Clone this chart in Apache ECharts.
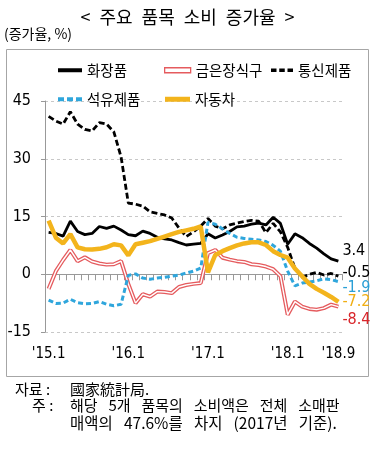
<!DOCTYPE html>
<html>
<head>
<meta charset="utf-8">
<script src="https://cdn.jsdelivr.net/npm/echarts@6/dist/echarts.min.js"></script>
<style>
html,body{margin:0;padding:0;background:#fff;}
#c{width:375px;height:450px;}
</style>
</head>
<body>
<div id="c"></div>
<script>
// ---- data ----
var categories = [
  "'15.1","'15.3","'15.4","'15.5","'15.6","'15.7","'15.8","'15.9","'15.10","'15.11","'15.12",
  "'16.1","'16.3","'16.4","'16.5","'16.6","'16.7","'16.8","'16.9","'16.10","'16.11","'16.12",
  "'17.1","'17.3","'17.4","'17.5","'17.6","'17.7","'17.8","'17.9","'17.10","'17.11","'17.12",
  "'18.1","'18.3","'18.4","'18.5","'18.6","'18.7","'18.8","'18.9"
];
var tickLabels = ["'15.1","'16.1","'17.1","'18.1","'18.9"];
var seriesNames = ["화장품","금은장식구","통신제품","석유제품","자동차"];
var cosmetics = [10.9,10.6,9.9,13.8,11.1,10.3,10.6,12.4,11.9,12.5,11.5,
  10.3,10.0,11.2,10.6,9.6,9.2,8.9,8.2,7.6,7.8,8.0,
  10.5,9.4,10.2,11.1,12.3,12.5,13.0,13.3,12.8,14.8,13.2,
  7.8,10.5,9.5,8.0,6.8,5.3,4.0,3.4];
var jewelry = [-3.8,0.8,3.7,6.3,3.4,4.4,3.3,2.8,2.5,2.6,3.4,
  -2.5,-7.5,-5.2,-5.8,-4.5,-4.6,-4.9,-3.3,-2.8,-2.5,-2.3,
  5.5,6.3,4.3,3.8,3.4,3.2,2.6,2.4,2.0,1.3,-0.5,
  -10.5,-7.1,-8.4,-9.0,-9.2,-8.8,-7.9,-8.4];
var telecom = [41.0,39.8,39.0,42.2,39.0,37.6,37.2,39.4,39.0,37.0,30.5,
  18.5,18.2,17.7,16.2,15.8,15.4,14.6,12.0,9.8,11.0,12.5,
  14.5,12.5,11.8,12.8,13.3,13.7,14.0,13.8,10.8,13.2,11.0,
  7.0,1.5,-0.8,0.0,0.5,-0.2,0.2,-0.5];
var oil = [-6.7,-7.6,-7.5,-6.5,-7.4,-7.7,-7.6,-7.1,-7.8,-8.2,-7.8,
  -0.3,0.1,-1.0,-1.3,-1.0,-0.8,-0.5,-0.2,0.3,0.8,1.6,
  13.5,13.0,11.8,10.6,9.6,9.3,9.1,8.9,8.5,7.5,6.0,
  0.8,-3.0,-2.3,-2.0,-1.7,-1.2,-1.4,-1.9];
var autos = [13.9,9.5,8.0,10.4,7.0,6.5,6.4,6.6,7.0,7.8,7.5,
  4.9,7.8,8.2,8.6,9.2,9.8,10.4,11.0,11.4,11.8,12.4,
  0.5,5.0,6.0,6.8,7.5,8.0,8.3,8.3,7.6,6.0,5.0,
  4.3,1.5,-0.5,-2.5,-3.8,-4.8,-5.9,-7.2];
var yMin = -15, yMax = 45, yStep = 15;

// ---- styles ----
var KR = "'Noto Sans CJK KR', sans-serif";
var NUM = "'Liberation Sans Narrow', 'DejaVu Sans Condensed', 'Liberation Sans', sans-serif";
var C_BLACK = '#000000', C_RED = '#e55b5e', C_BLUE = '#2fa6dc', C_GOLD = '#f3b41c';
var DASH = 'path://M0,0H6V4H0Z M9,0H15V4H9Z M18,0H24V4H18Z';

function legendItem(name, left, top, w, h, icon, itemStyle) {
  return {
    show: true, left: left, top: top, itemWidth: w, itemHeight: h, itemGap: 0,
    textStyle: {fontFamily: KR, fontSize: 14.5, color: '#000'},
    data: [{name: name, icon: icon, itemStyle: itemStyle}],
    selectedMode: false
  };
}

function endLbl(color, dy) {
  return {show: true, formatter: function (p) { return String(p.value); },
    color: color, fontFamily: NUM, fontSize: 16, distance: 4, offset: [0, dy]};
}

var chart = echarts.init(document.getElementById('c'), null, {renderer: 'canvas'});
var option = {
  animation: false,
  backgroundColor: '#fff',
  title: {
    text: '<\u2002주요\u2002품목\u2002소비\u2002증가율\u2002>',
    left: 'center', top: 3,
    textStyle: {fontFamily: KR, fontSize: 18, fontWeight: 'normal', color: '#000'}
  },
  graphic: [
    {type: 'rect', shape: {x: 6.5, y: 49.5, width: 362, height: 327},
      style: {fill: 'none', stroke: '#a6a6a6', lineWidth: 1}, silent: true},
    {type: 'text', left: 4, top: 27, style: {text: '(증가율, %)', font: '14px ' + KR, fill: '#000'}},
    {type: 'text', x: 15, y: 389, style: {text: '자료 :', font: '15px ' + KR, fill: '#000', textVerticalAlign: 'middle'}},
    {type: 'text', x: 70, y: 389, style: {text: '國家統計局.', font: '15px ' + KR, fill: '#000', textVerticalAlign: 'middle'}},
    {type: 'text', x: 32, y: 405, style: {text: '주 :', font: '15px ' + KR, fill: '#000', textVerticalAlign: 'middle'}},
    {type: 'text', x: 70, y: 405, style: {text: '해당\u2002 5개\u2002 품목의\u2002 소비액은\u2002 전체\u2002 소매판', font: '15px ' + KR, fill: '#000', textVerticalAlign: 'middle'}},
    {type: 'text', x: 70, y: 423, style: {text: '매액의\u2002 47.6%를\u2002 차지\u2002 (2017년\u2002 기준).', font: '15.5px ' + KR, fill: '#000', textVerticalAlign: 'middle'}}
  ],
  legend: [
    legendItem('화장품', 53, 58, 24, 4, 'rect', {color: C_BLACK}),
    legendItem('금은장식구', 159, 58, 26, 5, 'rect', {color: '#fff', borderColor: C_RED, borderWidth: 1.3}),
    legendItem('통신제품', 266, 58, 22, 4, DASH, {color: C_BLACK}),
    legendItem('석유제품', 53, 87, 24, 4, DASH, {color: C_BLUE}),
    legendItem('자동차', 160, 87, 25, 5, 'rect', {color: C_GOLD})
  ],
  grid: {left: 45, right: 33, top: 101, bottom: 118, containLabel: false},
  xAxis: [
    {
      type: 'category', data: categories, boundaryGap: true,
      axisLine: {onZero: true, lineStyle: {color: '#999', width: 1}},
      axisTick: {show: true, interval: 0, length: 6, lineStyle: {color: '#999'}},
      axisLabel: {show: false},
      splitLine: {show: false}
    },
    {
      type: 'category', data: categories, boundaryGap: true, position: 'bottom',
      axisLine: {show: false}, axisTick: {show: false},
      axisLabel: {
        show: true, margin: 15,
        interval: function (idx, val) { return tickLabels.indexOf(val) >= 0; },
        fontFamily: NUM, fontSize: 15, color: '#000'
      }
    }
  ],
  yAxis: {
    type: 'value', min: yMin, max: yMax, interval: yStep,
    axisLine: {show: true, lineStyle: {color: '#999'}},
    axisTick: {show: true, length: 4, lineStyle: {color: '#999'}},
    axisLabel: {fontFamily: NUM, fontSize: 16, color: '#000', margin: 14},
    splitLine: {show: true, lineStyle: {color: '#c8c8c8', type: [3, 3], width: 1}}
  },
  series: [
    {name: seriesNames[0], type: 'line', data: cosmetics, showSymbol: false, color: C_BLACK,
      lineStyle: {color: C_BLACK, width: 2.8}, endLabel: endLbl('#000', -10), z: 2},
    {name: seriesNames[1], type: 'line', data: jewelry, showSymbol: false, color: C_RED,
      lineStyle: {color: C_RED, width: 4}, endLabel: endLbl('#d9262b', 13), z: 2},
    {name: seriesNames[1] + ' ', type: 'line', data: jewelry, showSymbol: false, color: '#fff',
      lineStyle: {color: '#fff', width: 1.4}, silent: true, z: 2},
    {name: seriesNames[2], type: 'line', data: telecom, showSymbol: false, color: C_BLACK,
      lineStyle: {color: C_BLACK, width: 2.8, type: [6, 3]}, endLabel: endLbl('#000', -3), z: 2},
    {name: seriesNames[3], type: 'line', data: oil, showSymbol: false, color: C_BLUE,
      lineStyle: {color: C_BLUE, width: 3, type: [5, 3]}, endLabel: endLbl('#2a9fd6', 6), z: 2},
    {name: seriesNames[4], type: 'line', data: autos, showSymbol: false, color: C_GOLD,
      lineStyle: {color: C_GOLD, width: 4.5}, endLabel: endLbl('#f0ae14', 0), z: 2}
  ]
};
chart.setOption(option);
</script>
</body>
</html>
